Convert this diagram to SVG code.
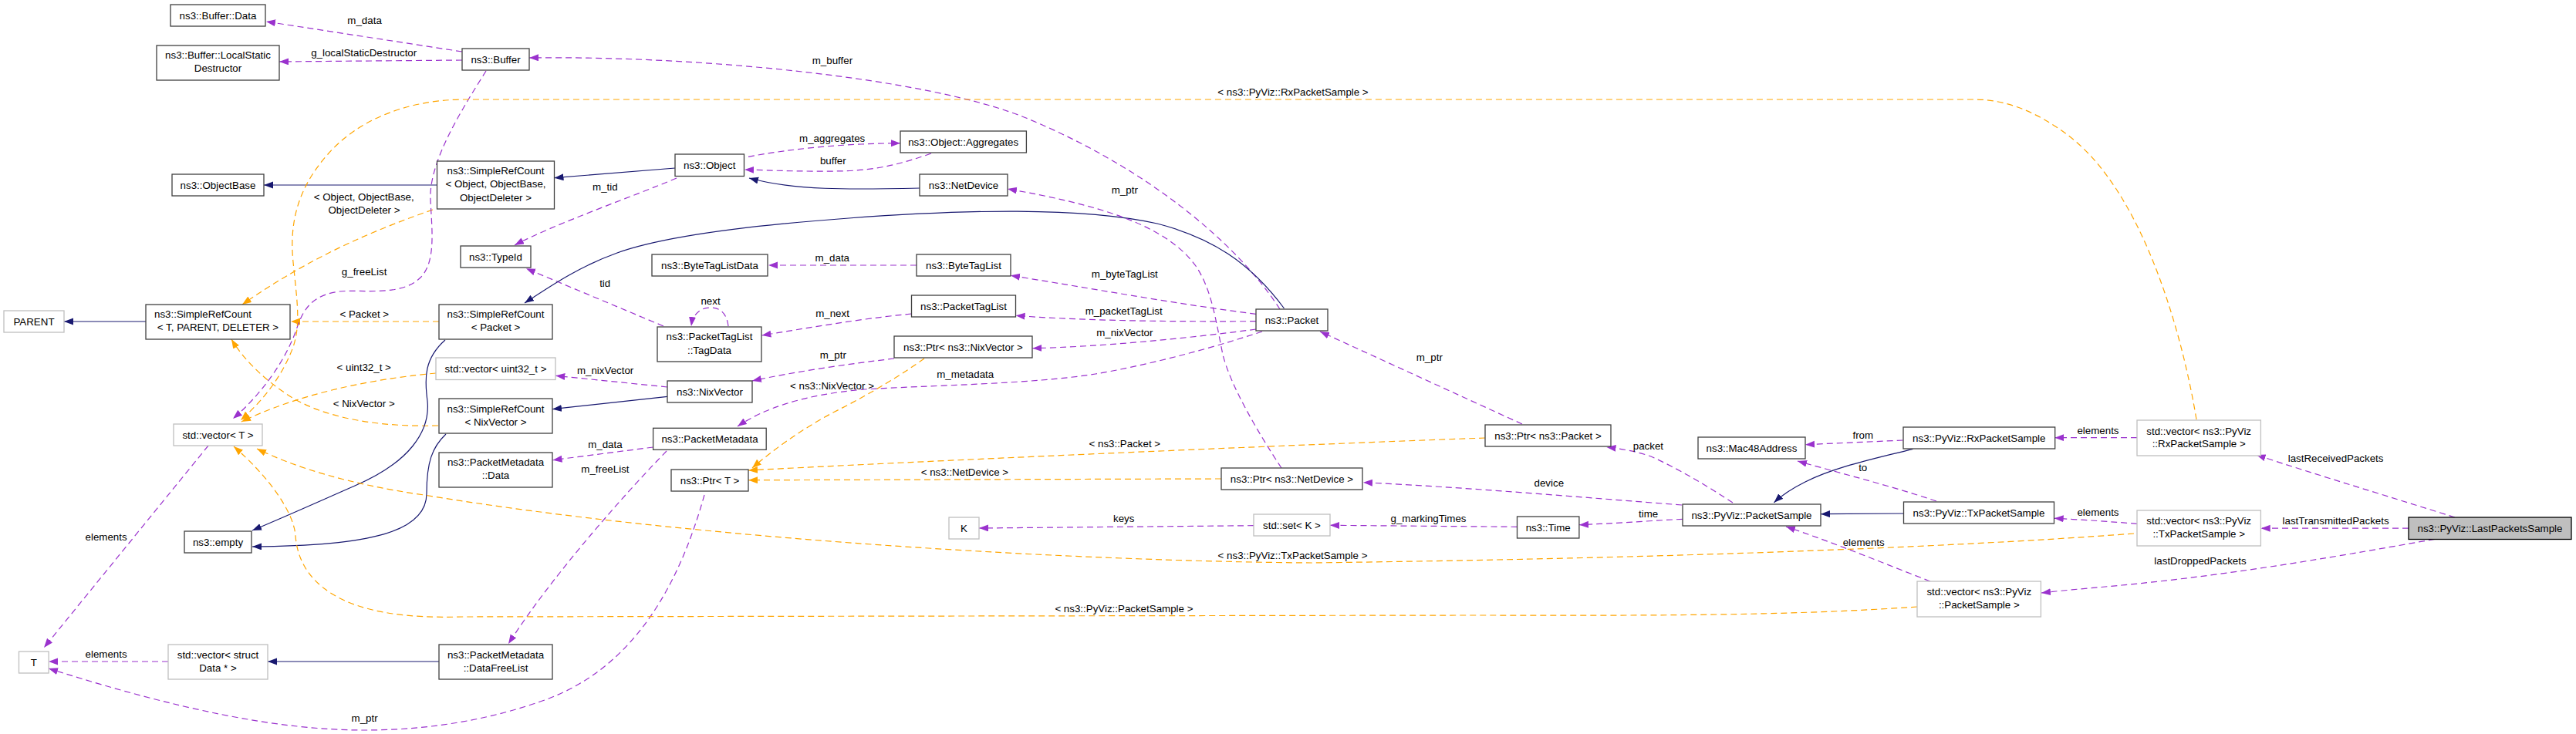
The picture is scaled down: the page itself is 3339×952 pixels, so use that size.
<svg xmlns="http://www.w3.org/2000/svg" width="3339" height="952" viewBox="0 0 3339 952">
<style>
text{font-family:"Liberation Sans",Arial,sans-serif;font-size:13.33px;fill:#000;text-anchor:middle}
.n rect{fill:#fff;stroke:#404040;stroke-width:1.3}
.g rect{fill:#fff;stroke:#bfbfbf;stroke-width:1.3}
.h rect{fill:#bfbfbf;stroke:#000;stroke-width:1.3}
.p{fill:none;stroke:#9a32cd;stroke-width:1.2;stroke-dasharray:8,5;marker-end:url(#mp)}
.o{fill:none;stroke:#ffa500;stroke-width:1.2;stroke-dasharray:8,5;marker-end:url(#mo)}
.b{fill:none;stroke:#191970;stroke-width:1.2;marker-end:url(#mb)}
</style>
<defs>
<marker id="mp" markerUnits="userSpaceOnUse" markerWidth="13" markerHeight="10" refX="12" refY="4.5" orient="auto"><path d="M0,0 L12,4.5 L0,9 z" fill="#9a32cd"/></marker>
<marker id="mo" markerUnits="userSpaceOnUse" markerWidth="13" markerHeight="10" refX="12" refY="4.5" orient="auto"><path d="M0,0 L12,4.5 L0,9 z" fill="#ffa500"/></marker>
<marker id="mb" markerUnits="userSpaceOnUse" markerWidth="13" markerHeight="10" refX="12" refY="4.5" orient="auto"><path d="M0,0 L12,4.5 L0,9 z" fill="#191970"/></marker>
</defs>
<rect width="3339" height="952" fill="#fff"/>
<g id="connectors">
<path class="p" d="M599,67 L345,28"/>
<path class="p" d="M599,78 L362,80"/>
<path class="p" d="M1659,401 C1600,310 1480,215 1330,153 C1200,100 900,72 686,75"/>
<path class="b" d="M566.5,240 L342,240"/>
<path class="b" d="M875,218 L718.5,230.7"/>
<path class="o" d="M561,272 C480,300 400,335 314,395"/>
<path class="o" d="M569,417 L377,417"/>
<path class="o" d="M568,552 C500,554 420,545 370,510 C340,490 315,465 300,440"/>
<path class="o" d="M565,484 C500,490 400,505 313,547"/>
<path class="p" d="M630,92 C600,140 555,210 558,260 C560,300 565,340 545,360 C520,385 470,375 440,378 C410,382 395,395 385,425 C370,470 335,515 302,543"/>
<path class="p" d="M270,578 L57,840"/>
<path class="b" d="M577,441 C550,465 550,490 554,520 C558,560 530,600 460,630 C410,652 370,670 327,688"/>
<path class="b" d="M578,563 C560,580 553,600 553,640 C553,690 480,708 327,709"/>
<path class="b" d="M189,417 L83,417"/>
<path class="p" d="M218,858 L63,858"/>
<path class="b" d="M569,858 L347,858"/>
<path class="p" d="M913,642 C880,760 820,870 700,910 C620,938 540,947 473,947 C360,947 230,920 63,867"/>
<path class="p" d="M846.6,580 L716.5,596.7"/>
<path class="p" d="M864,585 C820,630 720,740 659,835"/>
<path class="p" d="M865,502 L720.3,487.3"/>
<path class="b" d="M865,514.3 L716,530.7"/>
<path class="p" d="M1159,465 C1100,472 1030,482 975,494"/>
<path class="p" d="M1636,430 C1560,455 1480,475 1420,485 C1340,498 1200,500 1120,505 C1040,512 990,530 956,553"/>
<path class="o" d="M1198,465 C1170,485 1130,510 1080,535 C1040,556 1000,585 975,607"/>
<path class="p" d="M1628,427 C1530,440 1420,450 1338.4,451.7"/>
<path class="p" d="M1628,416.7 C1530,417 1420,417 1316.6,409.3"/>
<path class="p" d="M1628,407.3 C1530,395 1420,375 1310,357.3"/>
<path class="p" d="M1188,344 L996,344"/>
<path class="p" d="M1181.5,407 C1110,414 1050,425 987.4,435"/>
<path class="p" d="M944,423 C942,405 932,399 921,399 C908,399 898,407 896,423"/>
<path class="p" d="M860,423 L682,348.3"/>
<path class="p" d="M877,231 C820,255 720,290 667,318"/>
<path class="p" d="M1207,199 C1170,212 1140,220 1097,221.7 C1050,223 1000,221 965,220"/>
<path class="p" d="M970,203.3 C1030,192 1100,186 1167,185.7"/>
<path class="b" d="M1192,244 C1100,246 1030,247 971,231"/>
<path class="b" d="M1664.5,400 C1620,340 1570,308 1500,290 C1400,268 1250,272 1100,283 C950,294 850,310 800,328 C750,346 715,370 680,393"/>
<path class="p" d="M1973,550 L1711,430"/>
<path class="p" d="M1661,607 C1630,560 1595,500 1585,460 C1575,410 1570,375 1550,345 C1510,290 1420,265 1306,245"/>
<path class="o" d="M1925,568 C1600,580 1200,598 970,610"/>
<path class="o" d="M1583,621 L970,622.7"/>
<path class="o" d="M2847,544 C2830,440 2780,250 2680,175 C2640,145 2600,129 2560,129 L600,129 C520,130 460,160 425,200 C385,245 375,290 380,340 C385,390 390,420 380,450 C365,490 340,520 312,545"/>
<path class="o" d="M2766,692 C2500,712 2100,725 1700,730 C1400,728 900,700 550,642 C450,628 380,605 333,582"/>
<path class="o" d="M2485,787 C2300,800 2100,798 1900,798 L600,800 C530,802 470,795 430,770 C395,748 385,720 383,695 C381,665 350,620 303,579"/>
<path class="p" d="M2246,652 C2220,635 2180,610 2140,592 C2120,585 2100,582 2082.5,580"/>
<path class="p" d="M2180,655 C2050,645 1900,632 1767,625.7"/>
<path class="p" d="M2181,673.3 C2130,676 2090,679 2047,680.7"/>
<path class="p" d="M1966.5,683.3 L1724,681.3"/>
<path class="p" d="M1625,681.7 L1269,685"/>
<path class="p" d="M2466.7,571 L2340,576.7"/>
<path class="p" d="M2510,650 C2450,630 2390,615 2330,598"/>
<path class="b" d="M2479.4,582.3 C2430,595 2380,605 2340,625 C2320,635 2310,642 2299.5,651.7"/>
<path class="b" d="M2467.5,666 L2360,666.7"/>
<path class="p" d="M2502,754 C2440,730 2380,705 2315,683"/>
<path class="p" d="M2770,567.7 L2663.4,567.7"/>
<path class="p" d="M2770,679.3 C2740,677 2700,674 2662.7,672.3"/>
<path class="p" d="M3182,671 C3100,645 3000,615 2924.7,590"/>
<path class="p" d="M3122,685.2 L2930.7,685.2"/>
<path class="p" d="M3155.7,699.3 C3050,718 2900,745 2750,759 C2720,762 2680,765 2646,769"/>
<text x="472.6" y="31.4">m_data</text>
<text x="471.7" y="73">g_localStaticDestructor</text>
<text x="1078.9" y="83.4">m_buffer</text>
<text x="471.7" y="260.4">&lt; Object, ObjectBase,</text>
<text x="472" y="277.4">ObjectDeleter &gt;</text>
<text x="472.1" y="357.4">g_freeList</text>
<text x="472.3" y="412.4">&lt; Packet &gt;</text>
<text x="471.7" y="481.4">&lt; uint32_t &gt;</text>
<text x="471.7" y="528">&lt; NixVector &gt;</text>
<text x="137.6" y="701.4">elements</text>
<text x="137.6" y="853">elements</text>
<text x="472.6" y="936.4">m_ptr</text>
<text x="784.4" y="247.4">m_tid</text>
<text x="784.2" y="372">tid</text>
<text x="1078.7" y="183.7">m_aggregates</text>
<text x="1079.8" y="213.4">buffer</text>
<text x="1078.8" y="339">m_data</text>
<text x="921" y="395.4">next</text>
<text x="1079" y="411.4">m_next</text>
<text x="1079.8" y="464.7">m_ptr</text>
<text x="784.6" y="485.4">m_nixVector</text>
<text x="1078.5" y="505.4">&lt; ns3::NixVector &gt;</text>
<text x="784.4" y="580.7">m_data</text>
<text x="784.4" y="613">m_freeList</text>
<text x="1251.2" y="489.7">m_metadata</text>
<text x="1457.8" y="579.7">&lt; ns3::Packet &gt;</text>
<text x="1250.4" y="617.4">&lt; ns3::NetDevice &gt;</text>
<text x="1456.7" y="677">keys</text>
<text x="1675.5" y="724.7">&lt; ns3::PyViz::TxPacketSample &gt;</text>
<text x="1456.9" y="793.7">&lt; ns3::PyViz::PacketSample &gt;</text>
<text x="1676" y="124">&lt; ns3::PyViz::RxPacketSample &gt;</text>
<text x="1457.8" y="360.4">m_byteTagList</text>
<text x="1456.7" y="408">m_packetTagList</text>
<text x="1457.8" y="436.4">m_nixVector</text>
<text x="1457.8" y="251.4">m_ptr</text>
<text x="1852.8" y="468">m_ptr</text>
<text x="2136.4" y="583">packet</text>
<text x="2007.8" y="631.4">device</text>
<text x="2136.6" y="671.4">time</text>
<text x="1851.5" y="677">g_markingTimes</text>
<text x="2414.8" y="568.7">from</text>
<text x="2414.7" y="611.4">to</text>
<text x="2415.7" y="708">elements</text>
<text x="2719.5" y="563">elements</text>
<text x="2719.5" y="669">elements</text>
<text x="3027.6" y="599.1">lastReceivedPackets</text>
<text x="3027.6" y="680.1">lastTransmittedPackets</text>
<text x="2852" y="732.2">lastDroppedPackets</text>
</g>
<g id="n-buffer-data" class="n"><rect x="221" y="6" width="123" height="28"/><text x="282.5" y="24.7">ns3::Buffer::Data</text></g>
<g id="n-lsd" class="n"><rect x="203" y="59" width="159" height="45"/><text x="282.5" y="76.4">ns3::Buffer::LocalStatic</text><text x="282.5" y="93">Destructor</text></g>
<g id="n-objectbase" class="n"><rect x="223" y="226" width="119" height="28"/><text x="282.5" y="244.7">ns3::ObjectBase</text></g>
<g id="n-parent" class="g"><rect x="5" y="403" width="78" height="28"/><text x="44" y="421.7">PARENT</text></g>
<g id="n-src-t" class="n"><rect x="189" y="395" width="187" height="45"/><text x="200" y="412" style="text-anchor:start">ns3::SimpleRefCount</text><text x="282.5" y="429">&lt; T, PARENT, DELETER &gt;</text></g>
<g id="n-buffer" class="n"><rect x="599" y="63" width="87" height="28"/><text x="642.5" y="81.7">ns3::Buffer</text></g>
<g id="n-src-object" class="n"><rect x="566.5" y="209" width="152" height="62"/><text x="642.5" y="226.4">ns3::SimpleRefCount</text><text x="642.5" y="243.4">&lt; Object, ObjectBase,</text><text x="642.5" y="261.4">ObjectDeleter &gt;</text></g>
<g id="n-object" class="n"><rect x="875" y="200" width="89.5" height="28.5"/><text x="919.7" y="219">ns3::Object</text></g>
<g id="n-typeid" class="n"><rect x="597" y="319" width="91" height="28"/><text x="642.5" y="337.7">ns3::TypeId</text></g>
<g id="n-bytetaglistdata" class="n"><rect x="845" y="330" width="150" height="28"/><text x="920" y="348.7">ns3::ByteTagListData</text></g>
<g id="n-src-packet" class="n"><rect x="569" y="395" width="147" height="45"/><text x="642.5" y="412">ns3::SimpleRefCount</text><text x="642.5" y="429">&lt; Packet &gt;</text></g>
<g id="n-tagdata" class="n"><rect x="852" y="424" width="135" height="45"/><text x="919.5" y="441.4">ns3::PacketTagList</text><text x="919.5" y="459">::TagData</text></g>
<g id="n-vector-uint32" class="g"><rect x="565" y="464" width="155" height="28.5"/><text x="642.5" y="483">std::vector&lt; uint32_t &gt;</text></g>
<g id="n-nixvector" class="n"><rect x="865" y="494" width="110" height="28"/><text x="920" y="512.7">ns3::NixVector</text></g>
<g id="n-src-nixvector" class="n"><rect x="569" y="517" width="147" height="45"/><text x="642.5" y="535.4">ns3::SimpleRefCount</text><text x="642.5" y="552">&lt; NixVector &gt;</text></g>
<g id="n-packetmetadata" class="n"><rect x="846.6" y="555.3" width="146.6" height="28"/><text x="920" y="574">ns3::PacketMetadata</text></g>
<g id="n-pm-data" class="n"><rect x="569" y="587" width="147" height="45"/><text x="642.5" y="604">ns3::PacketMetadata</text><text x="642.5" y="620.7">::Data</text></g>
<g id="n-ptr-t" class="n"><rect x="870" y="609" width="100" height="28"/><text x="920" y="627.7">ns3::Ptr&lt; T &gt;</text></g>
<g id="n-datafreelist" class="n"><rect x="569" y="836" width="147" height="45"/><text x="642.5" y="853.7">ns3::PacketMetadata</text><text x="642.5" y="871.4">::DataFreeList</text></g>
<g id="n-vector-t" class="g"><rect x="225" y="550" width="115" height="28"/><text x="282.5" y="568.7">std::vector&lt; T &gt;</text></g>
<g id="n-empty" class="n"><rect x="239" y="689" width="87" height="28"/><text x="282.5" y="707.7">ns3::empty</text></g>
<g id="n-t" class="g"><rect x="24.5" y="845" width="38.6" height="28"/><text x="43.8" y="863.7">T</text></g>
<g id="n-vector-data" class="g"><rect x="218" y="836" width="129" height="45"/><text x="282.5" y="853.7">std::vector&lt; struct</text><text x="282.5" y="871.4">Data * &gt;</text></g>
<g id="n-aggregates" class="n"><rect x="1167" y="170" width="163.4" height="28"/><text x="1248.7" y="188.7">ns3::Object::Aggregates</text></g>
<g id="n-netdevice" class="n"><rect x="1192" y="226" width="114" height="28"/><text x="1249" y="244.7">ns3::NetDevice</text></g>
<g id="n-bytetaglist" class="n"><rect x="1188" y="330" width="122" height="28"/><text x="1249" y="348.7">ns3::ByteTagList</text></g>
<g id="n-packettaglist" class="n"><rect x="1181.5" y="383" width="135" height="28"/><text x="1249" y="401.7">ns3::PacketTagList</text></g>
<g id="n-ptr-nixvector" class="n"><rect x="1159" y="436" width="179" height="28"/><text x="1248.5" y="454.7">ns3::Ptr&lt; ns3::NixVector &gt;</text></g>
<g id="n-packet" class="n"><rect x="1628" y="401" width="93" height="28"/><text x="1674.5" y="419.7">ns3::Packet</text></g>
<g id="n-ptr-netdevice" class="n"><rect x="1583" y="607" width="183" height="28"/><text x="1674.5" y="625.7">ns3::Ptr&lt; ns3::NetDevice &gt;</text></g>
<g id="n-k" class="g"><rect x="1230" y="671" width="39" height="28"/><text x="1249.5" y="689.7">K</text></g>
<g id="n-set-k" class="g"><rect x="1625" y="667" width="99" height="28"/><text x="1674.5" y="685.7">std::set&lt; K &gt;</text></g>
<g id="n-ptr-packet" class="n"><rect x="1925" y="551" width="163" height="28"/><text x="2006.5" y="569.7">ns3::Ptr&lt; ns3::Packet &gt;</text></g>
<g id="n-time" class="n"><rect x="1966.5" y="670" width="80.4" height="28"/><text x="2006.7" y="688.7">ns3::Time</text></g>
<g id="n-packetsample" class="n"><rect x="2181" y="654" width="179" height="28"/><text x="2270.5" y="672.7">ns3::PyViz::PacketSample</text></g>
<g id="n-mac48" class="n"><rect x="2201" y="567" width="139" height="28"/><text x="2270.5" y="585.7">ns3::Mac48Address</text></g>
<g id="n-rx" class="n"><rect x="2467" y="554" width="196.7" height="28"/><text x="2565.3" y="572.7">ns3::PyViz::RxPacketSample</text></g>
<g id="n-tx" class="n"><rect x="2467.5" y="651" width="195" height="28"/><text x="2565" y="669.7">ns3::PyViz::TxPacketSample</text></g>
<g id="n-vector-ps" class="g"><rect x="2485" y="754" width="160.4" height="46"/><text x="2565.3" y="772.4">std::vector&lt; ns3::PyViz</text><text x="2565.3" y="789">::PacketSample &gt;</text></g>
<g id="n-vector-rx" class="g"><rect x="2770" y="545" width="160.4" height="46"/><text x="2850.2" y="563.5">std::vector&lt; ns3::PyViz</text><text x="2850.2" y="580.1">::RxPacketSample &gt;</text></g>
<g id="n-vector-tx" class="g"><rect x="2770" y="662" width="160.4" height="46"/><text x="2850.2" y="680.4">std::vector&lt; ns3::PyViz</text><text x="2850.2" y="697">::TxPacketSample &gt;</text></g>
<g id="n-lastpackets" class="h"><rect x="3122" y="671" width="211" height="28.5"/><text x="3227.5" y="689.9">ns3::PyViz::LastPacketsSample</text></g>
</svg>
